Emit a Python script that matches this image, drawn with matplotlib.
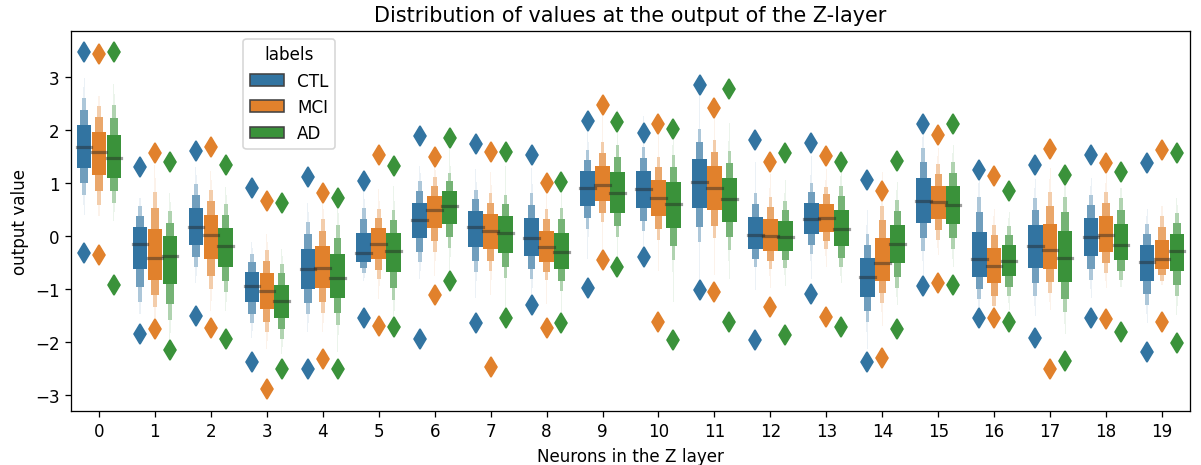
from statistics import NormalDist

import numpy as np
import matplotlib
matplotlib.use('Agg')
import matplotlib.pyplot as plt
from matplotlib.patches import Patch

neurons = list(range(20))
labels = ['CTL', 'MCI', 'AD']
colors = ['#3274a1', '#e1812c', '#3a923a']

# letter-value summary per neuron
ctl_med = [1.68, -0.15, 0.16, -0.94, -0.63, -0.32, 0.30, 0.16, -0.04, 0.91,
           0.88, 1.02, 0.01, 0.32, -0.77, 0.65, -0.44, -0.20, -0.02, -0.49]
ctl_q1 = [1.28, -0.63, -0.17, -1.25, -1.00, -0.49, -0.05, -0.21, -0.38, 0.57,
          0.53, 0.52, -0.25, 0.03, -1.15, 0.24, -0.77, -0.61, -0.38, -0.85]
ctl_q3 = [2.09, 0.16, 0.52, -0.68, -0.24, 0.05, 0.62, 0.47, 0.33, 1.22,
          1.23, 1.46, 0.36, 0.62, -0.42, 1.09, 0.08, 0.20, 0.33, -0.18]
ctl_out_lo = [-0.32, -1.85, -1.52, -2.39, -2.51, -1.55, -1.95, -1.64, -1.31, -0.98,
              -0.40, -1.02, -1.97, -1.10, -2.38, -0.95, -1.56, -1.94, -1.56, -2.19]
ctl_out_hi = [3.48, 1.30, 1.61, 0.91, 1.12, 1.03, 1.88, 1.73, 1.52, 2.17,
              1.95, 2.85, 1.81, 1.75, 1.05, 2.11, 1.24, 1.34, 1.53, 1.37]

mci_med = [1.59, -0.42, 0.01, -1.05, -0.60, -0.15, 0.49, 0.10, -0.22, 0.96,
           0.72, 0.91, -0.01, 0.34, -0.52, 0.63, -0.57, -0.26, 0.01, -0.44]
mci_q1 = [1.15, -0.83, -0.44, -1.39, -0.98, -0.44, 0.14, -0.24, -0.49, 0.65,
          0.37, 0.49, -0.28, 0.08, -0.85, 0.32, -0.90, -0.62, -0.30, -0.62]
mci_q3 = [1.97, 0.13, 0.39, -0.71, -0.20, 0.14, 0.76, 0.41, 0.10, 1.32,
          1.06, 1.31, 0.32, 0.60, -0.04, 0.95, -0.23, 0.22, 0.37, -0.08]
mci_out_lo = [-0.37, -1.76, -1.75, -2.89, -2.33, -1.70, -1.12, -2.47, -1.74, -0.46,
              -1.62, -1.07, -1.34, -1.53, -2.31, -0.90, -1.55, -2.52, -1.58, -1.62]
mci_out_hi = [3.43, 1.56, 1.67, 0.66, 0.81, 1.52, 1.48, 1.59, 0.99, 2.47,
              2.12, 2.41, 1.40, 1.51, 0.85, 1.91, 1.13, 1.64, 1.37, 1.63]

ad_med = [1.47, -0.38, -0.20, -1.24, -0.79, -0.28, 0.57, 0.05, -0.30, 0.80,
          0.61, 0.69, -0.02, 0.13, -0.16, 0.59, -0.47, -0.42, -0.17, -0.28]
ad_q1 = [1.10, -0.91, -0.58, -1.55, -1.18, -0.69, 0.22, -0.32, -0.63, 0.44,
         0.14, 0.27, -0.28, -0.19, -0.52, 0.22, -0.76, -0.87, -0.46, -0.66]
ad_q3 = [1.91, -0.01, 0.15, -0.93, -0.35, 0.06, 0.84, 0.37, 0.06, 1.20,
         1.01, 1.09, 0.28, 0.49, 0.21, 0.94, -0.18, 0.09, 0.22, 0.03]
ad_out_lo = [-0.93, -2.16, -1.95, -2.51, -2.52, -1.72, -0.85, -1.56, -1.64, -0.58,
             -1.97, -1.62, -1.87, -1.73, -1.76, -0.93, -1.62, -2.36, -1.81, -2.02]
ad_out_hi = [3.48, 1.39, 1.34, 0.62, 0.72, 1.32, 1.84, 1.59, 1.01, 2.15,
             2.02, 2.77, 1.56, 1.39, 1.42, 2.12, 0.85, 1.15, 1.20, 1.56]

groups = [
    (ctl_med, ctl_q1, ctl_q3, ctl_out_lo, ctl_out_hi),
    (mci_med, mci_q1, mci_q3, mci_out_lo, mci_out_hi),
    (ad_med, ad_q1, ad_q3, ad_out_lo, ad_out_hi),
]

n_levels = 7
nd = NormalDist()
z_ref = nd.inv_cdf(0.75)
depth = [nd.inv_cdf(1 - 2 ** -(i + 2)) / z_ref for i in range(n_levels)]


def lighten(c, f):
    rgb = np.array(matplotlib.colors.to_rgb(c))
    return tuple(rgb + (1 - rgb) * f)


fig = plt.figure(figsize=(1201 / 115, 466 / 115), dpi=115)
ax = fig.add_axes([71 / 1201, 1 - 412 / 466, (1190 - 71) / 1201, (412 - 32) / 466])

x = np.arange(len(neurons))
box_w = 0.8 / 3 * 0.98
for h, (med, q1, q3, lo, hi) in enumerate(groups):
    med = np.array(med)
    q1 = np.array(q1)
    q3 = np.array(q3)
    xs = x + (h - 1) * 0.8 / 3
    # outer levels first so inner boxes sit on top
    for i in range(n_levels - 1, -1, -1):
        top = med + (q3 - med) * depth[i]
        bot = med - (med - q1) * depth[i]
        ax.bar(xs, top - bot, box_w * 0.5 ** i, bottom=bot,
               color=lighten(colors[h], min(0.9, 0.3 * i)),
               linewidth=0, zorder=2)
    for xi, m in zip(xs, med):
        ax.plot([xi - box_w / 2, xi + box_w / 2], [m, m], c='.15', alpha=.45,
                lw=2, zorder=3)
    ax.plot(xs, lo, 'd', color=colors[h], ms=9, mec=colors[h], ls='none', zorder=3)
    ax.plot(xs, hi, 'd', color=colors[h], ms=9, mec=colors[h], ls='none', zorder=3)

ax.set_xlim(-0.5, 19.5)
ax.set_ylim(-3.31, 3.87)
ax.set_xticks(x)
ax.set_xticklabels([str(n) for n in neurons])
ax.set_yticks([-3, -2, -1, 0, 1, 2, 3])
ax.tick_params(labelsize=10.5)
ax.set_xlabel('Neurons in the Z layer', fontsize=10.5)
ax.set_ylabel('output value', fontsize=10.5)
ax.set_title('Distribution of values at the output of the Z-layer', fontsize=13)

handles = [Patch(facecolor=c, edgecolor='.26', lw=1) for c in colors]
ax.legend(handles, labels, title='labels', loc='upper left',
          bbox_to_anchor=(0.154, 0.98), borderaxespad=0,
          fontsize=10.5, title_fontsize=10.5)

fig.savefig('out.png', dpi=115)
